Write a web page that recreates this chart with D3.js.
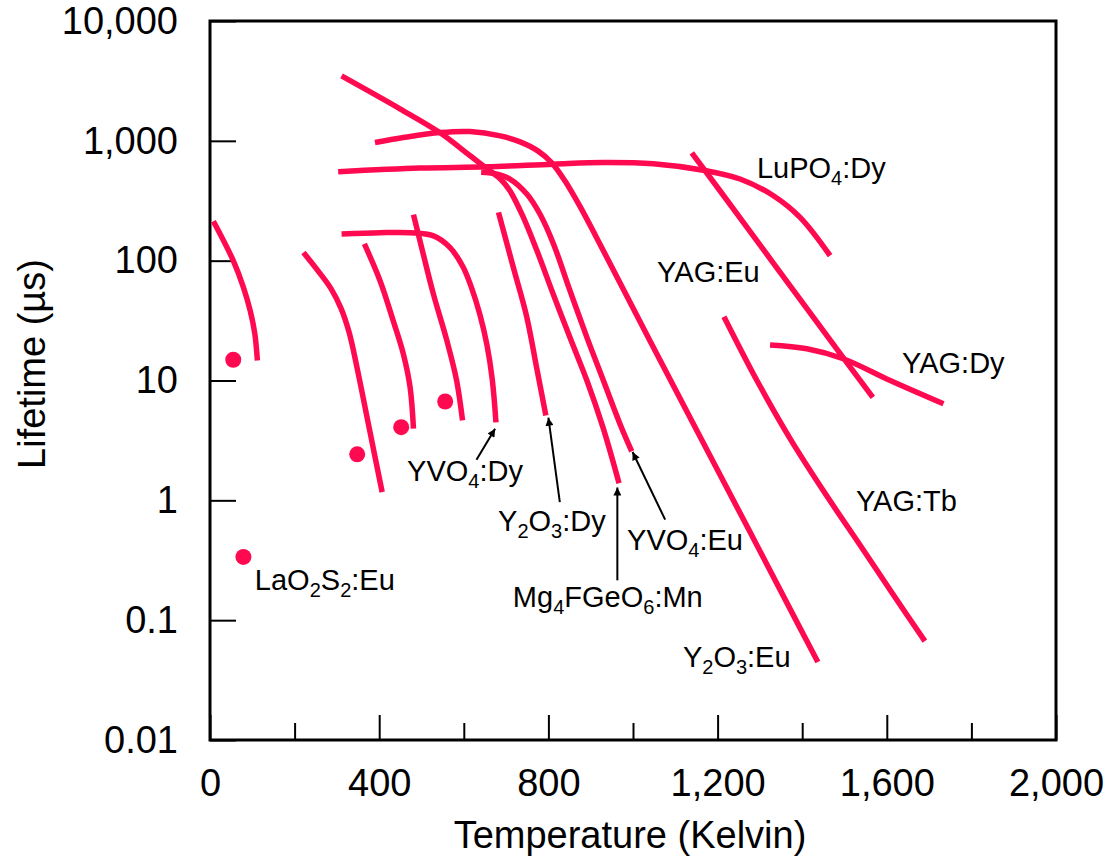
<!DOCTYPE html>
<html lang="en">
<head>
<meta charset="utf-8"/>
<style>
  body { margin: 0; background: #fff; }
  svg { display: block; background: #fff; font-family: "Liberation Sans", Arial, Helvetica, sans-serif; }
  .curve { fill: none; stroke: #ff0a50; stroke-width: 5.5; }
  .dot { fill: #ff0a50; }
  .axis .tick line { stroke: #000; stroke-width: 2; }
  .axis .tick text { font-size: 38px; fill: #000; font-family: "Liberation Sans", Arial, sans-serif; }
  .label { font-size: 29px; fill: #000; }
  .pointer { stroke: #000; stroke-width: 2; }
  .title { font-size: 38px; fill: #000; }
</style>
</head>
<body>
<svg id="chart" width="1108" height="861"></svg>
<script src="https://d3js.org/d3.v7.min.js"></script>
<script>
// axis ticks
let xTicks = [0, 200, 400, 600, 800, 1000, 1200, 1400, 1600, 1800, 2000]
let xMajorTicks = [0, 400, 800, 1200, 1600, 2000]
let yTicks = [0.01, 0.1, 1, 10, 100, 1000, 10000]
let yTickLabels = ["0.01", "0.1", "1", "10", "100", "1,000", "10,000"]

// curves, each point is [temperature (K), lifetime (µs)]
let lowTempCurve = [[8, 213], [55, 100], [79, 60], [95, 38.3], [106, 24.5], [112, 14.7]]
let dropCurve300 = [[221, 117], [255, 82.5], [286, 58.4], [310, 39.8], [329, 25.1], [348, 12.6], [369, 5.41], [388, 2.51], [407, 1.17]]
let dropCurve365 = [[365, 138], [402, 68], [433, 31.6], [457, 16.7], [473, 8.8], [481, 3.96]]
let yvo4Dy = [[311, 167], [402, 171], [473, 171], [527, 161.6], [567, 129], [598, 89], [619, 58.4], [638, 35.5], [655, 19.6], [667, 10.4], [676, 4.47]]
let dropCurve480 = [[481, 242], [504, 114], [528, 52.8], [560, 21.5], [583, 10], [597, 4.64]]
let y2o3Dy = [[682, 253], [717, 88], [749, 33.7], [772, 12.9], [794, 5.11]]
let mg4fgeo6Mn = [[311, 3480], [449, 1850], [544, 1166], [615, 750], [662, 562], [686, 482], [709, 383], [740, 233], [773, 121], [811, 53], [851, 22.8], [891, 10], [929, 4.06], [967, 1.39]]
let yvo4Eu = [[641, 546], [674, 531], [709, 480], [749, 360], [780, 245], [812, 138], [851, 56.2], [891, 22.9], [930, 10], [969, 4.36], [997, 2.56]]
let y2o3Eu = [[390, 968], [457, 1065], [544, 1173], [615, 1195], [686, 1101], [733, 981], [775, 825], [808, 656], [839, 464], [875, 282], [930, 121], [1040, 21.5], [1158, 3.42], [1277, 0.541], [1395, 0.0858], [1437, 0.0447]]
let lupo4Dy = [[303, 552], [497, 592], [654, 607], [812, 639], [930, 659], [1048, 643], [1174, 562], [1253, 480], [1332, 348], [1395, 229.5], [1466, 110]]
let yagEu = [[1139, 794], [1253, 228], [1371, 61.9], [1489, 16.95], [1567, 7.22]]
let yagDy = [[1324, 19.8], [1411, 18.4], [1497, 15.2], [1608, 10], [1734, 6.39]]
let yagTb = [[1215, 34.1], [1293, 10], [1371, 3.29], [1454, 1.144], [1537, 0.422], [1619, 0.156], [1690, 0.0668]]

// single measurements
let dots = [[55, 14.9], [79, 0.337], [348, 2.42], [452, 4.08], [556, 6.68]]

// labels: text ("_n" = subscript), temperature, lifetime of the left baseline
let labels = [
  ["LuPO_4:Dy", 1293, 492],
  ["YAG:Eu", 1057, 66.8],
  ["YAG:Dy", 1636, 11.66],
  ["YAG:Tb", 1527, 0.81],
  ["Y_2O_3:Eu", 1118, 0.0406],
  ["Mg_4FGeO_6:Mn", 716, 0.128],
  ["YVO_4:Eu", 986, 0.383],
  ["Y_2O_3:Dy", 681, 0.552],
  ["YVO_4:Dy", 466, 1.44],
  ["LaO_2S_2:Eu", 106, 0.178]
]

// arrows: [from T, from lifetime, to T, to lifetime]
let pointers = [
  [630, 2.18, 674, 3.96],
  [827, 0.968, 800, 4.89],
  [963, 0.215, 963, 1.28],
  [1076, 0.69, 999, 2.53]
]

let curves = [lowTempCurve, dropCurve300, dropCurve365, yvo4Dy, dropCurve480, y2o3Dy, mg4fgeo6Mn, yvo4Eu, y2o3Eu, lupo4Dy, yagEu, yagDy, yagTb]

let svg = d3.select("#chart")

let x = d3.scaleLinear().domain([0, 2000]).range([210, 1056])
let y = d3.scaleLog().domain([0.01, 10000]).range([740, 21])

// arrow head
svg.append("defs").append("marker")
  .attr("id", "head")
  .attr("viewBox", "0 0 10 10")
  .attr("refX", 10).attr("refY", 5)
  .attr("markerWidth", 11).attr("markerHeight", 8)
  .attr("markerUnits", "userSpaceOnUse")
  .attr("orient", "auto")
  .append("path").attr("d", "M0,0 L10,5 L0,10 z").attr("fill", "#000")

// minor x ticks (no labels)
svg.append("g")
  .attr("class", "axis")
  .attr("transform", "translate(0," + y(0.01) + ")")
  .call(d3.axisBottom(x).tickValues(xTicks.filter(t => !xMajorTicks.includes(t))).tickSizeInner(-17).tickSizeOuter(0).tickFormat(""))
  .call(g => g.select(".domain").remove())

// major x ticks
svg.append("g")
  .attr("class", "axis")
  .attr("transform", "translate(0," + y(0.01) + ")")
  .call(d3.axisBottom(x).tickValues(xMajorTicks).tickSizeInner(-25).tickSizeOuter(0).tickPadding(29)
    .tickFormat(d3.format(",")))
  .call(g => g.select(".domain").remove())

// y ticks
svg.append("g")
  .attr("class", "axis")
  .attr("transform", "translate(" + x(0) + ",0)")
  .call(d3.axisLeft(y).tickValues(yTicks).tickSizeInner(-26).tickSizeOuter(0).tickPadding(32)
    .tickFormat((d, i) => yTickLabels[i]))
  .call(g => g.select(".domain").remove())

// frame
svg.append("rect")
  .attr("x", x(0)).attr("y", y(10000))
  .attr("width", x(2000) - x(0)).attr("height", y(0.01) - y(10000))
  .attr("fill", "none").attr("stroke", "#000").attr("stroke-width", 3)

let line = d3.line()
  .x(d => x(d[0]))
  .y(d => y(d[1]))
  .curve(d3.curveCatmullRom.alpha(0.5))

svg.selectAll(".curve")
  .data(curves)
  .enter()
  .append("path")
  .attr("class", "curve")
  .attr("d", line)

svg.selectAll(".dot")
  .data(dots)
  .enter()
  .append("circle")
  .attr("class", "dot")
  .attr("cx", d => x(d[0]))
  .attr("cy", d => y(d[1]))
  .attr("r", 8)

svg.selectAll(".pointer")
  .data(pointers)
  .enter()
  .append("line")
  .attr("class", "pointer")
  .attr("x1", d => x(d[0])).attr("y1", d => y(d[1]))
  .attr("x2", d => x(d[2])).attr("y2", d => y(d[3]))
  .attr("marker-end", "url(#head)")

// labels with subscripts
labels.forEach(d => {
  let t = svg.append("text")
    .attr("class", "label")
    .attr("x", x(d[1]))
    .attr("y", y(d[2]))
  let sub = false
  d[0].split(/(_\d)/).filter(s => s.length).forEach(s => {
    if (s[0] === "_") {
      t.append("tspan").attr("font-size", 20).attr("dy", 7).text(s[1])
      sub = true
    } else {
      t.append("tspan").attr("dy", sub ? -7 : 0).text(s)
      sub = false
    }
  })
})

// axis titles
svg.append("text")
  .attr("class", "title")
  .attr("x", 630).attr("y", 848)
  .attr("text-anchor", "middle")
  .text("Temperature (Kelvin)")

svg.append("text")
  .attr("class", "title")
  .attr("transform", "translate(45,364) rotate(-90)")
  .attr("text-anchor", "middle")
  .text("Lifetime (µs)")
</script>
</body>
</html>
